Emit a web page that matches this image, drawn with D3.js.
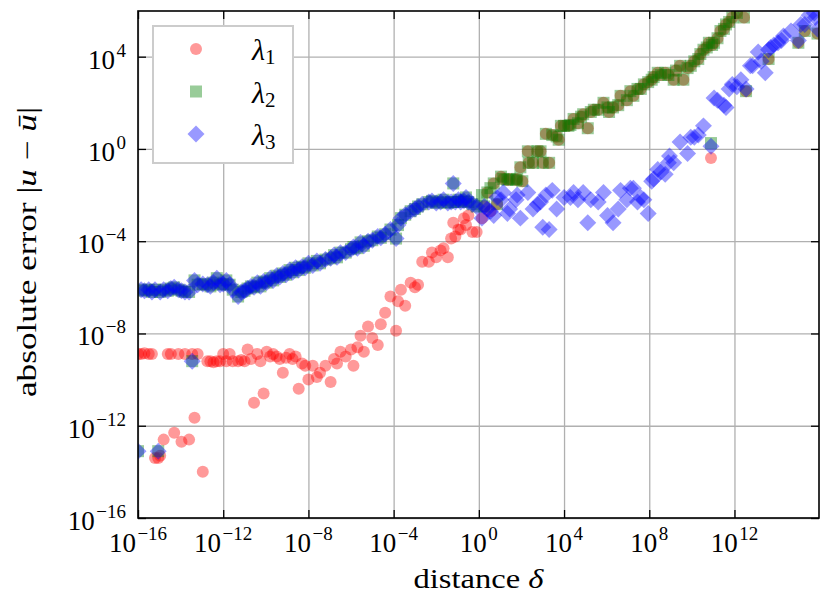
<!DOCTYPE html>
<html>
<head>
<meta charset="utf-8">
<script src="https://cdn.jsdelivr.net/npm/d3@7"></script>
<style>
  html, body { margin: 0; padding: 0; background: #fff; }
  svg text { font-family: "Liberation Serif", "Times New Roman", serif; fill: #000; }
</style>
</head>
<body>
<svg id="chart" width="830" height="607"></svg>
<script>
// distance samples, shared by the three series
const delta = [
  1e-16, 1.4e-16, 2e-16, 3.2e-16, 4.5e-16, 6.3e-16, 8.9e-16, 1.1e-15, 1.6e-15, 2.5e-15,
  3.5e-15, 5e-15, 7.9e-15, 1.1e-14, 1.6e-14, 2.5e-14, 3.5e-14, 4.5e-14, 6.3e-14, 1.1e-13,
  1.8e-13, 2.5e-13, 3.5e-13, 5e-13, 7.1e-13, 1e-12, 1.4e-12, 2e-12, 2.8e-12, 5e-12,
  7.1e-12, 1e-11, 1.4e-11, 2e-11, 2.8e-11, 4e-11, 5.6e-11, 7.9e-11, 1.1e-10, 1.6e-10,
  2.2e-10, 3.2e-10, 4.5e-10, 6.3e-10, 8.9e-10, 1.3e-9, 1.8e-9, 2.5e-9, 3.5e-9, 5e-9,
  7.1e-9, 1e-8, 1.6e-8, 2.5e-8, 3.5e-8, 6.3e-8, 1.1e-7, 1.6e-7, 2.2e-7, 3.2e-7,
  5.6e-7, 1e-6, 1.3e-6, 2e-6, 2.8e-6, 4e-6, 6.3e-6, 1e-5, 1.8e-5, 2.5e-5,
  4e-5, 7.1e-5, 1.3e-4, 1.6e-4, 2.2e-4, 3.5e-4, 6.3e-4, 1e-3, 1.4e-3, 2.2e-3,
  4.5e-3, 6.3e-3, 0.01, 0.016, 0.022, 0.035, 0.05, 0.063, 0.079, 0.11,
  0.14, 0.2, 0.25, 0.32, 0.5, 0.79,
  1.4, 1.8, 2.5, 3.5, 5, 7.1,
  11, 14, 22, 28, 56, 63, 89, 110, 200, 220,
  350, 560, 790, 1e3, 1.4e3, 2e3, 2.8e3, 4.5e3, 5.6e3, 7.1e3,
  1e4, 1.6e4, 2e4, 2.8e4, 4.5e4, 6.3e4, 7.9e4, 1.3e5, 1.8e5, 2.5e5,
  4e5, 7.1e5, 1.1e6, 1.3e6, 2e6, 3.5e6, 4.5e6, 8.9e6, 1.3e7, 1.8e7,
  2.8e7, 4e7, 5.6e7, 8.9e7, 1.3e8, 1.6e8, 2.5e8, 3.5e8, 5.6e8, 7.9e8,
  8.9e8, 1.4e9, 1.8e9, 2.8e9, 4e9, 6.3e9, 8.9e9, 1.3e10, 2e10, 2.5e10,
  3.5e10, 5e10, 6.3e10, 7.9e10, 8.9e10, 1.1e11, 1.6e11, 2.2e11, 3.2e11, 4e11,
  5.6e11, 7.9e11, 1.3e12, 2e12, 2.8e12, 3.5e12, 5.6e12, 7.1e12, 1.3e13, 1.8e13,
  2.8e13, 4e13, 5e13, 7.1e13, 1.1e14, 1.6e14, 2e14, 4.5e14, 1e15, 1.3e15,
  2e15, 3.2e15, 5.6e15, 6.3e15, 7.9e15
];

// absolute error for lambda_1 (null = off the chart)
const err1 = [
  1.3e-9, 1.3e-9, 1.4e-9, 1.3e-9, 1.3e-9, 4e-14, 4e-14, 5e-14, 2.5e-13, 1.3e-9,
  1.3e-9, 5e-13, 1.3e-9, 2e-13, 1.3e-9, 2.5e-13, 1.3e-9, 2.2e-12, 1.3e-9, 1e-14,
  6.3e-10, 6.3e-10, 5.6e-10, 6.3e-10, 6.3e-10, 1.3e-9, 6.3e-10, 1.3e-9, 6.3e-10, 6.3e-10,
  7.1e-10, 6.3e-10, 2e-9, 7.9e-10, 1e-11, 1.3e-9, 6.3e-10, 2.5e-11, 1.6e-9, 1e-9,
  1.3e-9, 1e-9, 7.9e-10, 2e-10, 8.9e-10, 1.3e-9, 7.9e-10, 1e-9, 4e-11, 5e-10,
  4e-10, 1e-10, 4e-10, 1.3e-10, 2e-10, 4e-10, 7.9e-11, 7.9e-10, 5e-10, 1.6e-9,
  1e-9, 2e-9, 4e-10, 2.5e-9, 7.9e-9, 1.6e-9, 2e-8, 6.3e-9, 3.2e-9, 2.5e-8,
  7.9e-8, 4e-7, 1.3e-8, 2.5e-7, 7.9e-7, 1.6e-7, 1.6e-6, 1e-6, 1.3e-6, 1.3e-5,
  1.3e-5, 3.2e-5, 2e-5, 4e-5, 5e-5, 2e-5, 1.3e-4, 6.3e-4, 1.6e-4, 3.2e-4,
  3.2e-4, 1e-3, 5e-4, 1.3e-3, 2.5e-4, 2.5e-4,
  1e-3, 3.2e-3, 1.3e-2, 2e-3, 3.2e-2, 4e-3,
  6.3e-2, 5e-2, 4.5e-2, 5e-2, 4.5e-2, 5e-2, 0.16, 4e-2, 0.79, 0.25,
  0.25, 0.79, 0.79, 0.25, 4.5, 0.25, 4, 3.5, 2.5, 10,
  10, 10, 11, 20, 13, 25, 32, 7.9, 40, 50,
  50, 100, 63, 40, 63, 79, 200, 130, 320, 200,
  400, 400, 630, 790, 1000, 1300, 2000, 1600, 2000, 1600,
  null, 1000, 2500, 4000, 1000, 3200, 4000, 6300, 7900, 1.3e4,
  2e4, 2.5e4, 4e4, 0.4, 3.2e4, 4e4, 6.3e4, 1.3e5, 1.6e5, 2.5e5,
  3.2e5, 5e5, 7.9e5, null, 5e5, 320, null, null, null, null,
  null, 7900, null, null, null, null, null, null, 4e4, null,
  1.3e5, null, null, null, 1e5
];

// absolute error for lambda_2
const err2 = [
  7.9e-14, 7.9e-7, 7.1e-7, 7.9e-7, 6.3e-7, 7.9e-7, 7.9e-14, 6.3e-7, 7.9e-7, 7.1e-7,
  8.9e-7, 1e-6, 7.9e-7, 7.1e-7, 6.3e-7, 6.3e-7, 6.3e-10, 2e-6, 1.3e-6, 1.4e-6,
  1.3e-6, 1.1e-6, 1.6e-6, 2.5e-6, 1.3e-6, 1.4e-6, 2e-6, 1.3e-6, 7.9e-7, 4e-7,
  6.3e-7, 7.1e-7, 8.9e-7, 1.1e-6, 1e-6, 1.6e-6, 1.1e-6, 1.8e-6, 1.6e-6, 2.5e-6,
  2e-6, 3.2e-6, 2.8e-6, 4e-6, 3.5e-6, 5.6e-6, 4.5e-6, 7.1e-6, 5.6e-6, 7.9e-6,
  7.1e-6, 1.1e-5, 8.9e-6, 1.4e-5, 1.1e-5, 1.6e-5, 1.8e-5, 2.5e-5, 2e-5, 3.2e-5,
  3.2e-5, 4.5e-5, 5.6e-5, 5e-5, 8.9e-5, 6.3e-5, 1e-4, 1.1e-4, 1.6e-4, 1.4e-4,
  2e-4, 3.2e-4, 1.3e-4, 5e-4, 1e-3, 1.4e-3, 2e-3, 2.5e-3, 3.2e-3, 4e-3,
  5e-3, 5.6e-3, 4.5e-3, 5e-3, 6.3e-3, 4.5e-3, 5e-3, 3.2e-2, 5e-3, 6.3e-3,
  5e-3, 5.6e-3, 7.9e-3, 5e-3, 4e-3, 3.2e-3,
  1e-2, 3.2e-3, 1.3e-2, 2e-2, 3.2e-2, 4e-3,
  6.3e-2, 5e-2, 4.5e-2, 5e-2, 4.5e-2, 5e-2, 0.16, 4e-2, 0.79, 0.25,
  0.25, 0.79, 0.79, 0.25, 4.5, 0.25, 4, 3.5, 2.5, 10,
  10, 10, 11, 20, 13, 25, 32, 7.9, 40, 50,
  50, 100, 63, 40, 63, 79, 200, 130, 320, 200,
  400, 400, 630, 790, 1000, 1300, 2000, 1600, 2000, 1600,
  null, 1000, 2500, 4000, 1000, 3200, 4000, 6300, 7900, 1.3e4,
  2e4, 2.5e4, 4e4, 1.8, 3.2e4, 4e4, 6.3e4, 1.3e5, 1.6e5, 2.5e5,
  3.2e5, 5e5, 7.9e5, null, 5e5, 320, null, null, null, null,
  null, 7900, null, null, null, null, null, null, 4e4, null,
  1.3e5, null, null, null, 1e5
];

// absolute error for lambda_3
const err3 = [
  7.9e-14, 7.9e-7, 7.1e-7, 7.9e-7, 6.3e-7, 7.9e-7, 7.9e-14, 6.3e-7, 7.9e-7, 7.1e-7,
  8.9e-7, 1e-6, 7.9e-7, 7.1e-7, 6.3e-7, 6.3e-7, 6.3e-10, 2e-6, 1.3e-6, 1.4e-6,
  1.3e-6, 1.1e-6, 1.6e-6, 2.5e-6, 1.3e-6, 1.4e-6, 2e-6, 1.3e-6, 7.9e-7, 4e-7,
  6.3e-7, 7.1e-7, 8.9e-7, 1.1e-6, 1e-6, 1.6e-6, 1.1e-6, 1.8e-6, 1.6e-6, 2.5e-6,
  2e-6, 3.2e-6, 2.8e-6, 4e-6, 3.5e-6, 5.6e-6, 4.5e-6, 7.1e-6, 5.6e-6, 7.9e-6,
  7.1e-6, 1.1e-5, 8.9e-6, 1.4e-5, 1.1e-5, 1.6e-5, 1.8e-5, 2.5e-5, 2e-5, 3.2e-5,
  3.2e-5, 4.5e-5, 5.6e-5, 5e-5, 8.9e-5, 6.3e-5, 1e-4, 1.1e-4, 1.6e-4, 1.4e-4,
  2e-4, 3.2e-4, 1.3e-4, 5e-4, 1e-3, 1.4e-3, 2e-3, 2.5e-3, 3.2e-3, 4e-3,
  5e-3, 5.6e-3, 4.5e-3, 5e-3, 6.3e-3, 4.5e-3, 5e-3, 3.2e-2, 5e-3, 6.3e-3,
  5e-3, 5.6e-3, 7.9e-3, 5e-3, 4e-3, 3.2e-3,
  1e-3, 3.2e-3, 2.5e-3, 2e-3, 1.3e-3, 7.9e-3,
  6.3e-3, 1.3e-2, 1.6e-3, 2.5e-3, 6.3e-3, 1e-2, 1e-3, null, 1.3e-2, null,
  2.5e-3, 4e-3, 5e-3, 4e-4, 1e-2, 3.2e-4, 1.6e-2, 2.5e-3, null, null,
  7.9e-3, null, 7.9e-3, 1.3e-2, 6.3e-3, null, 1.3e-2, 6.3e-4, 6.3e-3, null,
  5e-3, 1.3e-2, 1.3e-3, null, 6.3e-4, 2.5e-3, 1.6e-2, 6.3e-3, 2e-2, 2e-2,
  5e-3, 7.9e-3, 6.3e-3, 1.6e-3, 4e-2, 5e-2, 0.13, 0.1, 7.9e-2, 0.25,
  0.5, 0.25, null, 2, null, 0.63, 3.2, 3.2, 4, null,
  10, null, null, 1.3, null, 160, 130, null, 79, 63,
  400, 630, 500, 1000, null, 400, 4000, 4000, 1.6e4, 6300,
  2000, 2e4, 2.5e4, 3.2e4, 4e4, 5e4, 7.9e4, 1.3e5, 5e4, 2.5e5,
  2.5e5, 6.3e5, 7.9e5, 5e5, 1.6e5
];

const seriesNames = ['1', '2', '3'];
const seriesColors = ['#ff0000', '#008000', '#0000ff'];
const xTicks = [1e-16, 1e-12, 1e-8, 1e-4, 1e0, 1e4, 1e8, 1e12];
const yTicks = [1e-16, 1e-12, 1e-8, 1e-4, 1e0, 1e4];

const plot = { left: 138, right: 819, top: 11, bottom: 518 };
const svg = d3.select('#chart');

const x = d3.scaleLog().domain([1e-16, 9.3e15]).range([plot.left, plot.right]);
const y = d3.scaleLog().domain([1e-16, 9.55e5]).range([plot.bottom, plot.top]);

// grid
const xGrid = svg.append('g')
  .attr('transform', `translate(0,${plot.bottom})`)
  .call(d3.axisBottom(x).tickValues(xTicks).tickSize(-(plot.bottom - plot.top)).tickFormat(''));
const yGrid = svg.append('g')
  .attr('transform', `translate(${plot.left},0)`)
  .call(d3.axisLeft(y).tickValues(yTicks).tickSize(-(plot.right - plot.left)).tickFormat(''));
[xGrid, yGrid].forEach(g => {
  g.select('.domain').remove();
  g.selectAll('line').attr('stroke', '#b0b0b0').attr('stroke-width', 1.3);
});

// markers
svg.append('clipPath').attr('id', 'plot-clip')
  .append('rect')
  .attr('x', plot.left).attr('y', plot.top)
  .attr('width', plot.right - plot.left).attr('height', plot.bottom - plot.top);

const ms = 12;
const markerPaths = [
  d3.symbol(d3.symbolCircle, Math.PI * (ms / 2) * (ms / 2))(),
  d3.symbol(d3.symbolSquare, ms * ms)(),
  d3.symbol(d3.symbolSquare, ms * ms)()
];
const markerRotate = [0, 0, 45];

const points = svg.append('g').attr('clip-path', 'url(#plot-clip)');
[err1, err2, err3].forEach((errs, s) => {
  const rows = delta.map((d, i) => ({ x: d, y: errs[i] })).filter(r => r.y != null);
  points.append('g')
    .selectAll('path')
    .data(rows)
    .enter()
    .append('path')
    .attr('d', markerPaths[s])
    .attr('transform', d => `translate(${x(d.x)},${y(d.y)}) rotate(${markerRotate[s]})`)
    .attr('fill', seriesColors[s])
    .attr('fill-opacity', 0.4);
});

// frame and inward ticks on all four sides
svg.append('rect')
  .attr('x', plot.left).attr('y', plot.top)
  .attr('width', plot.right - plot.left).attr('height', plot.bottom - plot.top)
  .attr('fill', 'none').attr('stroke', '#000').attr('stroke-width', 1.6);

function tickAxis(axis, transform) {
  const g = svg.append('g').attr('transform', transform).call(axis.tickSize(-8).tickFormat(''));
  g.select('.domain').remove();
  g.selectAll('line').attr('stroke', '#000').attr('stroke-width', 1.3);
}
tickAxis(d3.axisBottom(x).tickValues(xTicks), `translate(0,${plot.bottom})`);
tickAxis(d3.axisTop(x).tickValues(xTicks), `translate(0,${plot.top})`);
tickAxis(d3.axisLeft(y).tickValues(yTicks), `translate(${plot.left},0)`);
tickAxis(d3.axisRight(y).tickValues(yTicks), `translate(${plot.right},0)`);

// tick labels as 10^n
function powerLabel(sel, v) {
  const e = Math.round(Math.log10(v));
  sel.append('tspan').text('10');
  sel.append('tspan')
    .attr('dy', -12).attr('dx', 1.5)
    .style('font-size', '19px')
    .text(e < 0 ? '\u2212' + (-e) : String(e));
}

svg.append('g').selectAll('text')
  .data(xTicks)
  .enter()
  .append('text')
  .attr('x', d => x(d))
  .attr('y', 552)
  .attr('text-anchor', 'middle')
  .style('font-size', '27px')
  .each(function(d) { powerLabel(d3.select(this), d); });

svg.append('g').selectAll('text')
  .data(yTicks)
  .enter()
  .append('text')
  .attr('x', 126)
  .attr('y', d => y(d) + 12)
  .attr('text-anchor', 'end')
  .style('font-size', '27px')
  .each(function(d) { powerLabel(d3.select(this), d); });

// axis titles
const xTitle = svg.append('text')
  .attr('x', (plot.left + plot.right) / 2)
  .attr('y', 588)
  .attr('text-anchor', 'middle')
  .attr('textLength', 130)
  .attr('lengthAdjust', 'spacingAndGlyphs')
  .style('font-size', '27px');
xTitle.append('tspan').text('distance ');
xTitle.append('tspan').style('font-style', 'italic').text('\u03b4');

const yTitle = svg.append('text')
  .attr('transform', 'translate(36,252) rotate(-90)')
  .attr('text-anchor', 'middle')
  .attr('textLength', 290)
  .attr('lengthAdjust', 'spacingAndGlyphs')
  .style('font-size', '27px');
yTitle.append('tspan').text('absolute error |');
yTitle.append('tspan').style('font-style', 'italic').text('u');
yTitle.append('tspan').text(' \u2212 ');
yTitle.append('tspan').style('font-style', 'italic').text('\u016b');
yTitle.append('tspan').text('|');

// legend
const legend = svg.append('g');
legend.append('rect')
  .attr('x', 153).attr('y', 26)
  .attr('width', 140).attr('height', 137)
  .attr('fill', '#fff')
  .attr('stroke', '#cccccc')
  .attr('stroke-width', 2);

seriesNames.forEach((name, s) => {
  const cy = 49 + s * 42.5;
  legend.append('path')
    .attr('d', markerPaths[s])
    .attr('transform', `translate(196,${cy}) rotate(${markerRotate[s]})`)
    .attr('fill', seriesColors[s])
    .attr('fill-opacity', 0.4);
  const label = legend.append('text')
    .attr('x', 252)
    .attr('y', cy + 11)
    .style('font-size', '30px');
  label.append('tspan').style('font-style', 'italic').text('\u03bb');
  label.append('tspan').attr('dy', 4).style('font-size', '21px').text(name);
});
</script>
</body>
</html>
